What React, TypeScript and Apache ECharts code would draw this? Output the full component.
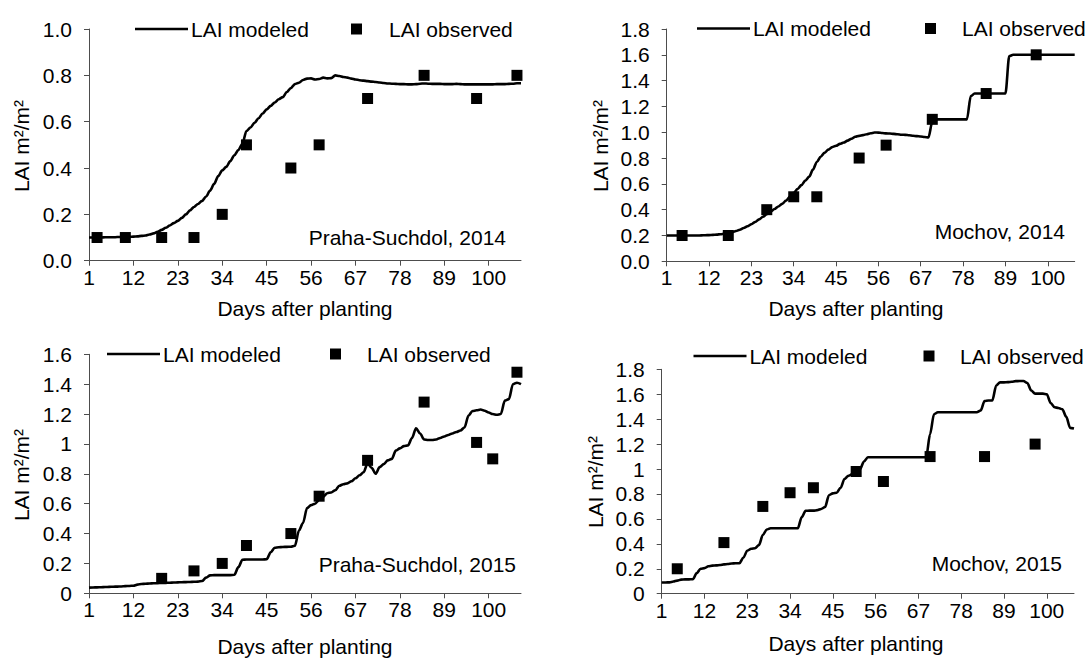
import React, { useEffect, useRef } from "react";
import * as echarts from "echarts";

// ---------- categories ----------
const DAYS_108: string[] = Array.from({ length: 108 }, (_, i) => String(i + 1));
const DAYS_107: string[] = DAYS_108.slice(0, 107);

// ---------- Praha-Suchdol, 2014 ----------
const P1_MODELED = [
  0.1, 0.1, 0.1, 0.1, 0.101, 0.101, 0.101, 0.102, 0.102, 0.103,
  0.103, 0.104, 0.105, 0.107, 0.109, 0.113, 0.118, 0.125, 0.133, 0.142,
  0.152, 0.162, 0.172, 0.185, 0.2, 0.217, 0.232, 0.245, 0.258, 0.277,
  0.303, 0.332, 0.365, 0.39, 0.405, 0.43, 0.455, 0.478, 0.505, 0.56,
  0.575, 0.595, 0.615, 0.635, 0.653, 0.668, 0.683, 0.697, 0.706, 0.728,
  0.745, 0.762, 0.768, 0.78, 0.786, 0.787, 0.782, 0.784, 0.79, 0.787,
  0.788, 0.8, 0.797, 0.793, 0.79, 0.786, 0.782, 0.779, 0.777, 0.775,
  0.773, 0.771, 0.769, 0.767, 0.765, 0.764, 0.763, 0.762, 0.762, 0.761,
  0.761, 0.762, 0.764, 0.765, 0.764, 0.763, 0.763, 0.763, 0.762, 0.762,
  0.762, 0.763, 0.762, 0.761, 0.761, 0.761, 0.761, 0.761, 0.761, 0.761,
  0.761, 0.762, 0.762, 0.762, 0.763, 0.764, 0.766, 0.766,
];
const P1_OBS_DAYS = [3, 10, 19, 27, 34, 40, 51, 58, 70, 84, 97, 107];
const P1_OBS = [0.1, 0.1, 0.1, 0.1, 0.2, 0.5, 0.4, 0.5, 0.7, 0.8, 0.7, 0.8];

// ---------- Mochov, 2014 ----------
const P2_MODELED = [
  0.2, 0.2, 0.2, 0.2, 0.2, 0.2, 0.2, 0.2, 0.2, 0.201,
  0.202, 0.203, 0.205, 0.207, 0.21, 0.213, 0.217, 0.225, 0.235, 0.245,
  0.258, 0.272, 0.287, 0.305, 0.325, 0.345, 0.365, 0.385, 0.405, 0.425,
  0.445, 0.47, 0.5, 0.53, 0.56, 0.59, 0.625, 0.655, 0.71, 0.77,
  0.81, 0.84, 0.865, 0.885, 0.895, 0.91, 0.92, 0.935, 0.95, 0.965,
  0.972, 0.978, 0.985, 0.992, 0.998, 0.997, 0.994, 0.991, 0.99, 0.987,
  0.984, 0.981, 0.98, 0.977, 0.973, 0.97, 0.967, 0.963, 0.96, 1.08,
  1.1, 1.1, 1.1, 1.1, 1.1, 1.1, 1.1, 1.1, 1.1, 1.28,
  1.3, 1.3, 1.3, 1.3, 1.3, 1.3, 1.3, 1.3, 1.3, 1.59,
  1.6, 1.6, 1.6, 1.6, 1.6, 1.6, 1.6, 1.6, 1.6, 1.6,
  1.6, 1.6, 1.6, 1.6, 1.6, 1.6, 1.6,
];
const P2_OBS_DAYS = [5, 17, 27, 34, 40, 51, 58, 70, 84, 97];
const P2_OBS = [0.2, 0.2, 0.4, 0.5, 0.5, 0.8, 0.9, 1.1, 1.3, 1.6];

// ---------- Praha-Suchdol, 2015 ----------
const P3_MODELED = [
  0.038, 0.039, 0.04, 0.041, 0.042, 0.043, 0.044, 0.045, 0.046, 0.048,
  0.049, 0.051, 0.058, 0.062, 0.064, 0.066, 0.067, 0.068, 0.069, 0.07,
  0.071, 0.072, 0.073, 0.074, 0.075, 0.076, 0.077, 0.078, 0.082, 0.105,
  0.12, 0.122, 0.122, 0.122, 0.122, 0.122, 0.124, 0.175, 0.225, 0.226,
  0.226, 0.226, 0.226, 0.226, 0.228, 0.275, 0.305, 0.308, 0.31, 0.311,
  0.312, 0.318, 0.42, 0.47, 0.57, 0.59, 0.6, 0.625, 0.645, 0.67,
  0.675, 0.69, 0.72, 0.73, 0.736, 0.75, 0.77, 0.79, 0.81, 0.87,
  0.84, 0.8, 0.845, 0.865, 0.89, 0.9, 0.955, 0.97, 0.985, 0.99,
  1.04, 1.105, 1.07, 1.03, 1.026, 1.026, 1.03, 1.04, 1.05, 1.06,
  1.07, 1.08, 1.09, 1.11, 1.19, 1.22, 1.225, 1.23, 1.222, 1.21,
  1.2, 1.195, 1.2, 1.29, 1.3, 1.4, 1.41, 1.4,
];
const P3_OBS_DAYS = [19, 27, 34, 40, 51, 58, 70, 84, 97, 101, 107];
const P3_OBS = [0.1, 0.15, 0.2, 0.32, 0.4, 0.65, 0.89, 1.28, 1.01, 0.9, 1.48];

// ---------- Mochov, 2015 ----------
const P4_MODELED = [
  0.09, 0.09, 0.091, 0.098, 0.105, 0.113, 0.115, 0.115, 0.116, 0.165,
  0.2, 0.205, 0.22, 0.225, 0.227, 0.23, 0.235, 0.238, 0.242, 0.244,
  0.245, 0.29, 0.345, 0.36, 0.365, 0.39, 0.47, 0.515, 0.525, 0.525,
  0.525, 0.525, 0.525, 0.525, 0.525, 0.525, 0.615, 0.665, 0.666, 0.666,
  0.67, 0.68, 0.695, 0.79, 0.805, 0.81, 0.85, 0.92, 0.945, 0.96,
  0.975, 1.0, 1.06, 1.095, 1.095, 1.095, 1.095, 1.095, 1.095, 1.095,
  1.095, 1.095, 1.095, 1.095, 1.095, 1.095, 1.095, 1.095, 1.095, 1.28,
  1.44, 1.455, 1.455, 1.455, 1.455, 1.455, 1.455, 1.455, 1.455, 1.455,
  1.455, 1.455, 1.47, 1.545, 1.55, 1.55, 1.67, 1.695, 1.695, 1.697,
  1.7, 1.705, 1.706, 1.706, 1.69, 1.63, 1.605, 1.605, 1.605, 1.6,
  1.53, 1.495, 1.49, 1.48, 1.42, 1.33, 1.325,
];
const P4_OBS_DAYS = [5, 17, 27, 34, 40, 51, 58, 70, 84, 97];
const P4_OBS = [0.2, 0.41, 0.7, 0.81, 0.85, 0.98, 0.9, 1.1, 1.1, 1.2];

const LABELS = ["Praha-Suchdol, 2014", "Mochov, 2014", "Praha-Suchdol, 2015", "Mochov, 2015"];
const Y_MAX = [1.0, 1.8, 1.6, 1.8];
const Y_DECIMALS = [true, true, false, false];

const FONT = '"Liberation Sans", Arial, Helvetica, sans-serif';
const FS = 21;
const AXIS_COLOR = "#4d4d4d";

const PANELS = [
  {
    days: DAYS_108, modeled: P1_MODELED, obsDays: P1_OBS_DAYS, obs: P1_OBS,
    grid: { left: 89, top: 29, width: 432, height: 231.7 },
    legend: { lx: 135, ly: 29, sx: 356.5, tx2: 389 },
    note: { x: 506, y: 237.5 },
    xTitle: { x: 305, y: 308 },
    yTitle: { x: 21.5, y: 146 },
  },
  {
    days: DAYS_107, modeled: P2_MODELED, obsDays: P2_OBS_DAYS, obs: P2_OBS,
    grid: { left: 666.7, top: 29, width: 408, height: 232.3 },
    legend: { lx: 697, ly: 28.5, sx: 930.5, tx2: 962 },
    note: { x: 1065, y: 231 },
    xTitle: { x: 856, y: 308 },
    yTitle: { x: 600, y: 146 },
  },
  {
    days: DAYS_108, modeled: P3_MODELED, obsDays: P3_OBS_DAYS, obs: P3_OBS,
    grid: { left: 89, top: 354.3, width: 432, height: 239 },
    legend: { lx: 107, ly: 354, sx: 335.5, tx2: 367 },
    note: { x: 516, y: 564 },
    xTitle: { x: 305, y: 646 },
    yTitle: { x: 21.5, y: 475 },
  },
  {
    days: DAYS_107, modeled: P4_MODELED, obsDays: P4_OBS_DAYS, obs: P4_OBS,
    grid: { left: 661.7, top: 369.3, width: 412.3, height: 224.4 },
    legend: { lx: 693.5, ly: 356, sx: 929, tx2: 960 },
    note: { x: 1062, y: 563.5 },
    xTitle: { x: 856, y: 643 },
    yTitle: { x: 595, y: 482 },
  },
];

function buildOption() {
  const grid: any[] = [];
  const xAxis: any[] = [];
  const yAxis: any[] = [];
  const series: any[] = [];
  const graphic: any[] = [];
  const textStyle = { fontFamily: FONT, fontSize: FS, fill: "#000" };

  PANELS.forEach((p, i) => {
    grid.push({ ...p.grid, containLabel: false });
    xAxis.push({
      type: "category",
      gridIndex: i,
      data: p.days,
      boundaryGap: false,
      axisLine: { show: true, lineStyle: { color: AXIS_COLOR, width: 1 } },
      axisTick: { show: true, interval: 10, length: 5, inside: false, lineStyle: { color: AXIS_COLOR } },
      axisLabel: {
        interval: 10, margin: 6, color: "#000", fontFamily: FONT, fontSize: FS,
        hideOverlap: false,
      },
      splitLine: { show: false },
    });
    const dec = Y_DECIMALS[i];
    yAxis.push({
      type: "value",
      gridIndex: i,
      min: 0,
      max: Y_MAX[i],
      interval: 0.2,
      axisLine: { show: true, lineStyle: { color: AXIS_COLOR, width: 1 } },
      axisTick: { show: true, length: 5, inside: false, lineStyle: { color: AXIS_COLOR } },
      axisLabel: {
        margin: 17, color: "#000", fontFamily: FONT, fontSize: FS,
        formatter: (v: number) => (dec ? v.toFixed(1) : String(parseFloat(v.toFixed(1)))),
      },
      splitLine: { show: false },
    });
    series.push({
      type: "line",
      name: "LAI modeled",
      xAxisIndex: i,
      yAxisIndex: i,
      data: p.modeled,
      showSymbol: false,
      symbol: "none",
      smooth: 0.3,
      smoothMonotone: "x",
      lineStyle: { color: "#000", width: 2.6 },
      z: 2,
    });
    series.push({
      type: "scatter",
      name: "LAI observed",
      xAxisIndex: i,
      yAxisIndex: i,
      data: p.obsDays.map((d, k) => [String(d), p.obs[k]]),
      symbol: "rect",
      symbolSize: 11,
      itemStyle: { color: "#000", opacity: 1 },
      z: 3,
    });

    // legend
    const L = p.legend;
    graphic.push({
      type: "line",
      shape: { x1: L.lx, y1: L.ly, x2: L.lx + 53, y2: L.ly },
      style: { stroke: "#000", lineWidth: 2.6 },
    });
    graphic.push({
      type: "text",
      x: L.lx + 56,
      y: L.ly,
      style: { ...textStyle, text: "LAI modeled", align: "left", verticalAlign: "middle" },
    });
    graphic.push({
      type: "rect",
      shape: { x: L.sx - 5.5, y: L.ly - 5.5, width: 11, height: 11 },
      style: { fill: "#000" },
    });
    graphic.push({
      type: "text",
      x: L.tx2,
      y: L.ly,
      style: { ...textStyle, text: "LAI observed", align: "left", verticalAlign: "middle" },
    });
    // site annotation
    graphic.push({
      type: "text",
      x: p.note.x,
      y: p.note.y,
      style: { ...textStyle, text: LABELS[i], align: "right", verticalAlign: "middle" },
    });
    // axis titles
    graphic.push({
      type: "text",
      x: p.xTitle.x,
      y: p.xTitle.y,
      style: { ...textStyle, text: "Days after planting", align: "center", verticalAlign: "middle" },
    });
    graphic.push({
      type: "text",
      x: p.yTitle.x,
      y: p.yTitle.y,
      rotation: Math.PI / 2,
      style: { ...textStyle, text: "LAI m²/m²", align: "center", verticalAlign: "middle" },
    });
  });

  return {
    animation: false,
    backgroundColor: "#fff",
    textStyle: { fontFamily: FONT },
    grid,
    xAxis,
    yAxis,
    series,
    graphic,
  };
}

export default function App() {
  const ref = useRef<HTMLDivElement>(null);
  useEffect(() => {
    if (!ref.current) return;
    const chart = echarts.init(ref.current, undefined, { renderer: "svg" });
    chart.setOption(buildOption() as any);
    return () => chart.dispose();
  }, []);
  return (
    <div
      ref={ref}
      style={{ position: "absolute", left: 0, top: 0, width: 1088, height: 659, background: "#fff" }}
    />
  );
}
